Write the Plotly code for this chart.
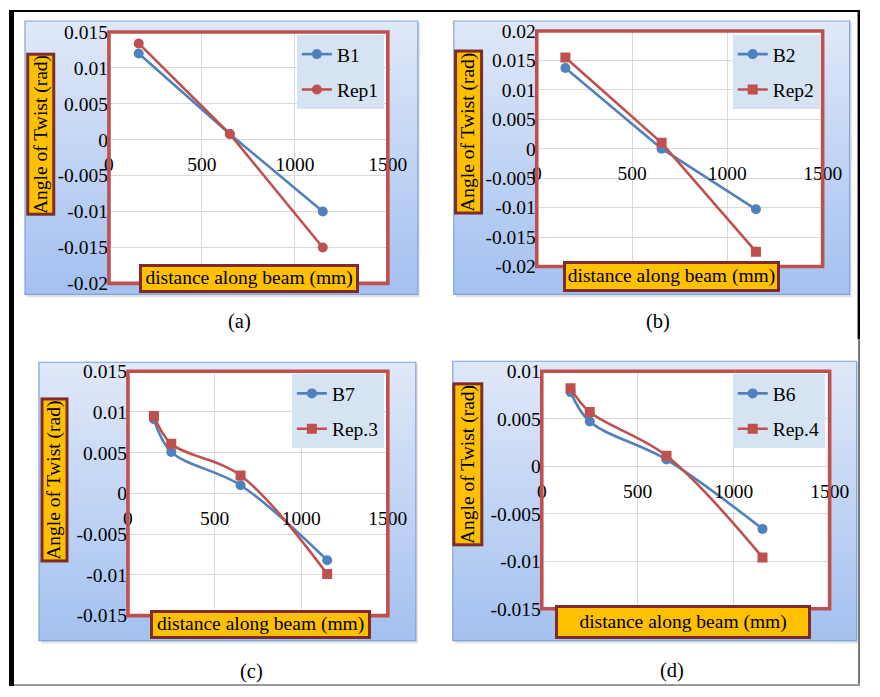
import plotly.graph_objects as go

W, H = 880, 697

# ---------------- data ----------------
dist_a = [160, 650, 1150]
B1 = [0.012, 0.0008, -0.01]
Rep1 = [0.0134, 0.0008, -0.015]

dist_b = [150, 655, 1150]
B2 = [0.0137, 0.0, -0.0103]
Rep2 = [0.0155, 0.001, -0.0175]

dist_c = [150, 250, 650, 1150]
B7 = [0.0091, 0.0051, 0.001, -0.0082]
Rep3 = [0.0095, 0.0061, 0.0022, -0.0099]

dist_d = [150, 250, 650, 1150]
B6 = [0.0078, 0.0047, 0.0007, -0.0066]
Rep4 = [0.0082, 0.0057, 0.0011, -0.0096]

x_tickvals = [0, 500, 1000, 1500]
x_ticktext = ["0", "500", "1000", "1500"]

y_ticks_a = [-0.02, -0.015, -0.01, -0.005, 0, 0.005, 0.01, 0.015]
y_text_a = ["-0.02", "-0.015", "-0.01", "-0.005", "0", "0.005", "0.01", "0.015"]
y_ticks_b = [-0.02, -0.015, -0.01, -0.005, 0, 0.005, 0.01, 0.015, 0.02]
y_text_b = ["-0.02", "-0.015", "-0.01", "-0.005", "0", "0.005", "0.01", "0.015", "0.02"]
y_ticks_c = [-0.015, -0.01, -0.005, 0, 0.005, 0.01, 0.015]
y_text_c = ["-0.015", "-0.01", "-0.005", "0", "0.005", "0.01", "0.015"]
y_ticks_d = [-0.015, -0.01, -0.005, 0, 0.005, 0.01]
y_text_d = ["-0.015", "-0.01", "-0.005", "0", "0.005", "0.01"]

x_title = "distance along beam (mm)"
y_title = "Angle of Twist (rad)"
captions = ["(a)", "(b)", "(c)", "(d)"]

BLUE = "#4F81BD"
RED = "#C0504D"
FONT = "Liberation Serif, Times New Roman, serif"

# geometry measured on the target picture (pixels)
panels = [
    dict(x=dist_a, s1=B1, s2=Rep1, n1="B1", n2="Rep1", sym2="circle", shape="linear",
         yr=[-0.02, 0.015], yt=y_ticks_a, ytt=y_text_a,
         plot=(109, 388, 32, 284), box=(25, 418, 21, 295),
         ytb=(41, 134, 28, 158), xtb=(249, 279, 214, 28),
         leg=(297, 35), cap=(240, 322)),
    dict(x=dist_b, s1=B2, s2=Rep2, n1="B2", n2="Rep2", sym2="square", shape="linear",
         yr=[-0.02, 0.02], yt=y_ticks_b, ytt=y_text_b,
         plot=(537, 823, 31, 267), box=(454, 850, 21, 295),
         ytb=(469, 132, 28, 160), xtb=(671.5, 277, 211, 30),
         leg=(733, 35), cap=(658, 322)),
    dict(x=dist_c, s1=B7, s2=Rep3, n1="B7", n2="Rep.3", sym2="square", shape="spline",
         yr=[-0.015, 0.015], yt=y_ticks_c, ytt=y_text_c,
         plot=(128, 388, 372, 617), box=(39, 416, 363, 642),
         ytb=(54.5, 481, 27, 160), xtb=(260.5, 626, 215, 28),
         leg=(292, 375), cap=(252, 673)),
    dict(x=dist_d, s1=B6, s2=Rep4, n1="B6", n2="Rep.4", sym2="square", shape="spline",
         yr=[-0.015, 0.01], yt=y_ticks_d, ytt=y_text_d,
         plot=(542, 830, 372, 610), box=(453, 857, 362, 642),
         ytb=(468, 465.5, 30, 159), xtb=(683.5, 623.5, 249, 33),
         leg=(733, 375), cap=(672, 672)),
]

# the returned photo places page pixel p at OX + S*p; compensate
OX, OY, S = 5.0, 10.0, 0.972


def px(X):
    v = (X - OX) / S / W
    return min(max(v, 0.0), 1.0)


def py(Y):
    v = 1 - (Y - OY) / S / H
    return min(max(v, 0.0), 1.0)


def ln(v):
    return v / S


fig = go.Figure()
shapes = []
annotations = []
layout = {}


def lerp(c1, c2, t):
    return "rgb(%d,%d,%d)" % tuple(round(a + (b - a) * t) for a, b in zip(c1, c2))


top_c = (224, 233, 248)
bot_c = (163, 192, 240)
FS = 19.5

for i, p in enumerate(panels, start=1):
    xs = "x" if i == 1 else "x%d" % i
    ys = "y" if i == 1 else "y%d" % i
    leg = "legend" if i == 1 else "legend%d" % i
    line_shape = p["shape"]
    fig.add_trace(go.Scatter(
        x=p["x"], y=p["s1"], name=p["n1"], mode="lines+markers",
        line=dict(color=BLUE, width=2.6, shape=line_shape),
        marker=dict(symbol="circle", size=10, color=BLUE),
        xaxis=xs, yaxis=ys, legend=leg, legendgroup="g%da" % i))
    fig.add_trace(go.Scatter(
        x=p["x"], y=p["s2"], name=p["n2"], mode="lines+markers",
        line=dict(color=RED, width=2.6, shape=line_shape),
        marker=dict(symbol=p["sym2"], size=10, color=RED),
        xaxis=xs, yaxis=ys, legend=leg, legendgroup="g%db" % i))

    x0, x1, y0, y1 = p["plot"]
    xd = [px(x0), px(x1)]
    yd = [py(y1), py(y0)]
    ymin, ymax = p["yr"]
    zero_pos = yd[0] + (0 - ymin) / (ymax - ymin) * (yd[1] - yd[0])

    axis_font = dict(family=FONT, size=FS, color="black")
    layout["xaxis" if i == 1 else "xaxis%d" % i] = dict(
        domain=xd, range=[0, 1500], anchor="free", position=zero_pos,
        tickvals=x_tickvals, ticktext=x_ticktext, showgrid=True,
        gridcolor="#D9D9D9", gridwidth=1, zeroline=False, showline=False,
        ticks="outside", ticklen=7, tickcolor="rgba(0,0,0,0)",
        tickfont=axis_font, fixedrange=True)
    layout["yaxis" if i == 1 else "yaxis%d" % i] = dict(
        domain=yd, range=p["yr"], anchor=xs, tickvals=p["yt"], ticktext=p["ytt"],
        showgrid=True, gridcolor="#D9D9D9", gridwidth=1, zeroline=True,
        zerolinecolor="#D9D9D9", zerolinewidth=1, showline=False,
        ticks="", tickfont=axis_font, fixedrange=True)

    bx0, bx1, by0, by1 = p["box"]
    shapes.append(dict(type="rect", xref="paper", yref="paper", layer="below",
                       x0=px(bx0 + 2), x1=px(bx1 + 2), y0=py(by1 + 3), y1=py(by0 + 2),
                       fillcolor="rgba(0,0,0,0.12)", line=dict(width=0)))
    n = 40
    for k in range(n):
        ya = by0 + (by1 - by0) * k / n
        yb = by0 + (by1 - by0) * (k + 1) / n
        shapes.append(dict(type="rect", xref="paper", yref="paper", layer="below",
                           x0=px(bx0), x1=px(bx1), y0=py(yb + 0.5), y1=py(ya),
                           fillcolor=lerp(top_c, bot_c, (k + 0.5) / n),
                           line=dict(width=0)))
    shapes.append(dict(type="rect", xref="paper", yref="paper", layer="below",
                       x0=px(bx0), x1=px(bx1), y0=py(by1), y1=py(by0),
                       fillcolor="rgba(0,0,0,0)", line=dict(color="#7FA3DC", width=1.2)))
    shapes.append(dict(type="rect", xref="paper", yref="paper", layer="below",
                       x0=xd[0], x1=xd[1], y0=yd[0], y1=yd[1],
                       fillcolor="white", line=dict(width=0)))
    shapes.append(dict(type="rect", xref="paper", yref="paper", layer="above",
                       x0=xd[0], x1=xd[1], y0=yd[0], y1=yd[1],
                       fillcolor="rgba(0,0,0,0)", line=dict(color=RED, width=3.6)))

    cx, cy, bw, bh = p["ytb"]
    annotations.append(dict(
        text=y_title, xref="paper", yref="paper", x=px(cx), y=py(cy),
        xanchor="center", yanchor="middle", showarrow=False, textangle=-90,
        width=ln(bh) - 6, height=ln(bw) - 6, bgcolor="#FFC000", bordercolor="#7E2B2B",
        borderwidth=3, borderpad=0, font=dict(family=FONT, size=FS, color="black")))
    cx, cy, bw, bh = p["xtb"]
    annotations.append(dict(
        text=x_title, xref="paper", yref="paper", x=px(cx), y=py(cy),
        xanchor="center", yanchor="middle", showarrow=False,
        width=ln(bw) - 6, height=ln(bh) - 6, bgcolor="#FFC000", bordercolor="#7E2B2B",
        borderwidth=3, borderpad=0, font=dict(family=FONT, size=FS, color="black")))
    cx, cy = p["cap"]
    annotations.append(dict(
        text=captions[i - 1], xref="paper", yref="paper", x=px(cx), y=py(cy),
        xanchor="center", yanchor="middle", showarrow=False,
        font=dict(family=FONT, size=20.5, color="black")))

    lx, ly = p["leg"]
    layout[leg] = dict(
        x=px(lx), y=py(ly), xanchor="left", yanchor="top",
        bgcolor="#D6E3F3", borderwidth=0, font=dict(family=FONT, size=FS, color="black"),
        traceorder="grouped", tracegroupgap=7, itemwidth=30)

# outer frame of the figure sheet
shapes.append(dict(type="rect", xref="paper", yref="paper", layer="above",
                   x0=px(9), x1=1.0, y0=py(12), y1=py(7),
                   fillcolor="black", line=dict(width=0)))
shapes.append(dict(type="rect", xref="paper", yref="paper", layer="above",
                   x0=px(9), x1=px(14), y0=0.0, y1=py(7),
                   fillcolor="black", line=dict(width=0)))
shapes.append(dict(type="rect", xref="paper", yref="paper", layer="above",
                   x0=1 - 2.5 / W, x1=1.0, y0=py(340), y1=py(7),
                   fillcolor="black", line=dict(width=0)))
shapes.append(dict(type="rect", xref="paper", yref="paper", layer="above",
                   x0=1 - 2 / W, x1=1.0, y0=0.0, y1=py(340),
                   fillcolor="#777777", line=dict(width=0)))
shapes.append(dict(type="rect", xref="paper", yref="paper", layer="above",
                   x0=px(14), x1=1.0, y0=0.0, y1=2 / H,
                   fillcolor="#999999", line=dict(width=0)))

fig.update_layout(
    width=W, height=H, margin=dict(l=0, r=0, t=0, b=0),
    paper_bgcolor="white", plot_bgcolor="rgba(0,0,0,0)",
    shapes=shapes, annotations=annotations, showlegend=True,
    **layout)

fig.write_html(
    "out.html",
    config={"displayModeBar": False},
    post_script="document.body.style.margin='0';document.body.style.overflow='hidden';")
